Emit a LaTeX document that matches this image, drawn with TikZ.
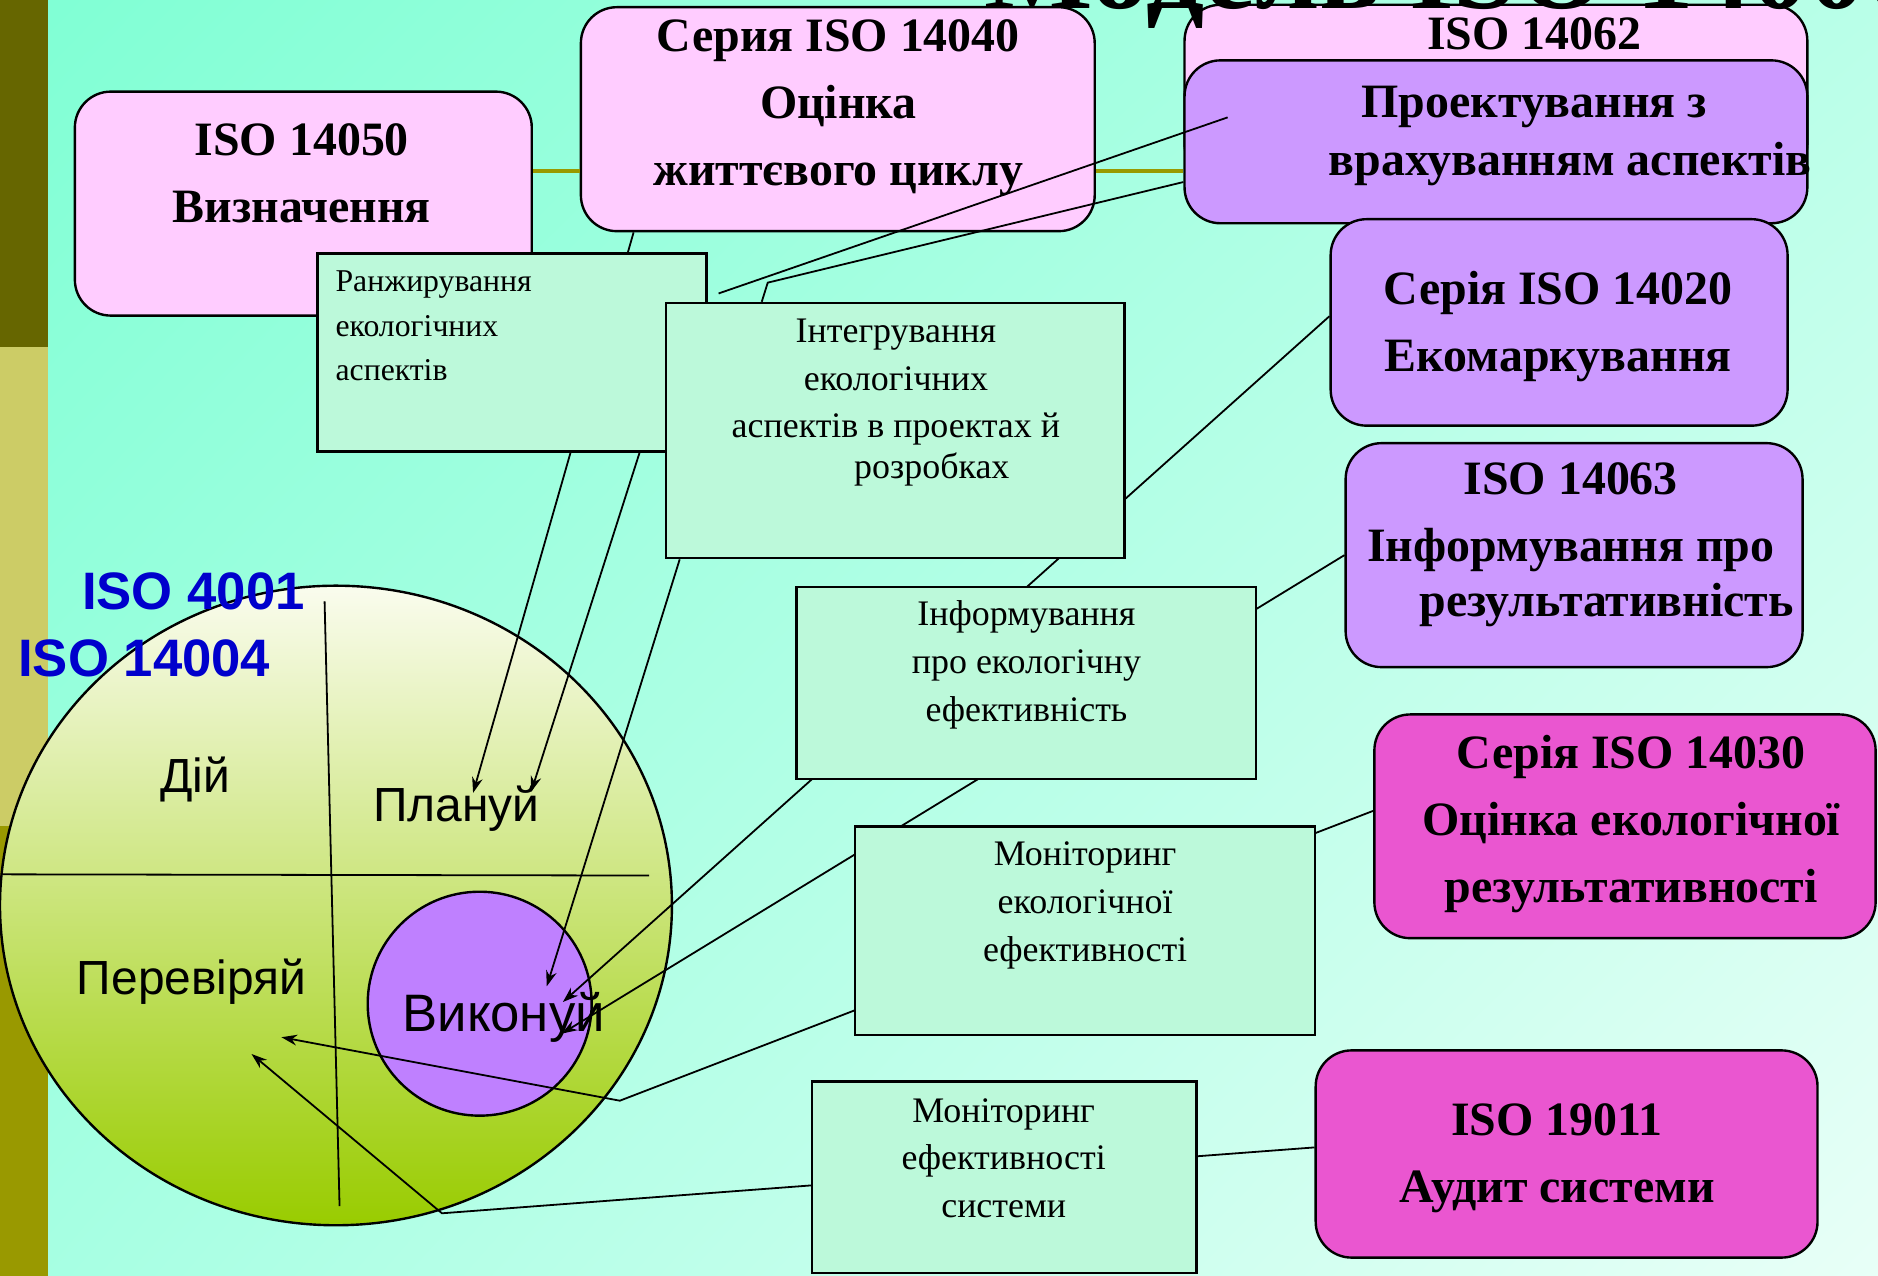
\documentclass[tikz,border=0pt]{standalone}
\usepackage{fontspec}
\setmainfont{Liberation Serif}
\newfontfamily\sansf{Liberation Sans}
\usetikzlibrary{arrows.meta,shapes.geometric,shadings}

\definecolor{bgTopLeft}{RGB}{127,255,212}
\definecolor{bgTopRight}{RGB}{185,255,232}
\definecolor{bgBotLeft}{RGB}{165,255,226}
\definecolor{bgBotRight}{RGB}{232,255,247}
\definecolor{barDark}{RGB}{102,102,0}
\definecolor{barLight}{RGB}{204,204,102}
\definecolor{barMid}{RGB}{153,153,0}
\definecolor{pinkFill}{RGB}{255,204,255}
\definecolor{violetFill}{RGB}{204,153,255}
\definecolor{magentaFill}{RGB}{234,86,208}
\definecolor{mintFill}{RGB}{188,249,218}
\definecolor{pdcaTop}{RGB}{250,252,238}
\definecolor{pdcaBot}{RGB}{153,204,0}
\definecolor{doFill}{RGB}{191,128,255}
\definecolor{isoBlue}{RGB}{0,0,204}
\definecolor{oliveLine}{RGB}{153,153,0}

\pgfdeclarelayer{front}
\pgfsetlayers{main,front}

\begin{document}
\begin{tikzpicture}[x=1pt,y=1pt,yscale=-1,
  pinkbox/.style={draw, line width=2pt, rounded corners=30pt, fill=pinkFill, inner sep=0pt},
  violetbox/.style={pinkbox, fill=violetFill},
  magbox/.style={pinkbox, fill=magentaFill},
  mintbox/.style={draw, line width=2pt, fill=mintFill, inner sep=0pt},
  headtext/.style={align=center, inner sep=0pt, font=\fontsize{40}{56}\selectfont\bfseries},
  minttext/.style={align=center, inner sep=0pt, font=\fontsize{30}{40}\selectfont},
  phase/.style={inner sep=0pt, font=\sansf\fontsize{40}{48}\selectfont},
  isolabel/.style={inner sep=0pt, text=isoBlue, font=\sansf\bfseries\fontsize{44}{50}\selectfont},
  wire/.style={line width=1.5pt},
  arrowwire/.style={wire, -{Stealth[length=13pt,width=9pt]}},
  oliveline/.style={line width=3pt, draw=oliveLine}]
\useasboundingbox (0,0) rectangle (1568,1065);

%Background
\shade[upper left=bgTopLeft, upper right=bgTopRight, lower left=bgBotLeft, lower right=bgBotRight] (0,0) rectangle (1568,1065);
\fill[barDark] (0,0) rectangle (40,290);
\fill[barLight] (0,290) rectangle (40,690);
\fill[barMid] (0,690) rectangle (40,1065);

%Shape: Rounded Rect [id:def]
\node[pinkbox, minimum width=381.5pt, minimum height=187pt] (def) at (253.25,170) {};
\node[headtext] (tdef) at (252,145) {ISO 14050\\Визначення};
%Shape: Rounded Rect [id:lca]
\node[pinkbox, minimum width=429pt, minimum height=187pt] (lca) at (699.5,99.5) {};
\node[headtext] (tlca) at (700,90) {Серия ISO 14040\\Оцінка\\життєвого циклу};
%Shape: Rounded Rect [id:iso14062]
\node[pinkbox, minimum width=520pt, minimum height=146pt] (iso14062) at (1249,77) {};
\node[headtext, anchor=base] (tiso14062) at (1281,41) {ISO 14062};
%Shape: Rounded Rect [id:proj]
\node[violetbox, minimum width=520pt, minimum height=136pt] (proj) at (1249,118.4) {};
\node[headtext, font=\fontsize{40}{48}\selectfont\bfseries] (tproj) at (1281,113.6) {Проектування з\\\hspace*{60pt}врахуванням аспектів};
%Shape: Rounded Rect [id:eco]
\node[violetbox, minimum width=381.5pt, minimum height=172.4pt] (eco) at (1301.75,269.2) {};
\node[headtext] (teco) at (1301,272.6) {Серія ISO 14020\\Екомаркування};
%Shape: Rounded Rect [id:inform]
\node[violetbox, minimum width=381.5pt, minimum height=187pt] (inform) at (1314.25,463.5) {};
\node[headtext] (tinform) at (1311.5,455) {ISO 14063\\Інформування про\\[-10pt]\hspace*{60pt}результативність};
%Shape: Rounded Rect [id:perf]
\node[magbox, minimum width=418.5pt, minimum height=186.8pt] (perf) at (1356.75,689.9) {};
\node[headtext] (tperf) at (1362,688) {Серія ISO 14030\\Оцінка екологічної\\результативності};
%Shape: Rounded Rect [id:audit]
\node[magbox, minimum width=419pt, minimum height=173pt] (audit) at (1308,963.5) {};
\node[headtext] (taudit) at (1300,967) {ISO 19011\\Аудит системи};

%Straight Lines [id:olive]
\draw[oliveline] (def.east |- 0,143) -- (lca.west |- 0,143);
\draw[oliveline] (lca.east |- 0,143) -- (proj.west |- 0,143);

% Text Node
\node[anchor=base west, inner sep=0pt, font=\fontsize{96}{100}\selectfont\bfseries] (title) at (822,7) {Модель ISO 14000};

%Shape: Ellipse [id:pdca]
\node[ellipse, draw, line width=2pt, inner sep=0pt, minimum width=561pt, minimum height=534pt, top color=pdcaTop, bottom color=pdcaBot] (pdca) at (280.5,756) {};
\draw[wire] (271,502) -- (283.5,1007);
\draw[wire] (2,730) -- (542,731);
%Shape: Circle [id:doarea]
\node[circle, draw, line width=2pt, fill=doFill, inner sep=0pt, minimum size=187pt] (doarea) at (400.5,838) {};
% Text Node
\node[phase, anchor=base] (act) at (163,661.5) {Дій};
\node[phase, anchor=base] (plan) at (381,686) {Плануй};
\node[phase, anchor=base] (check) at (160,830) {Перевіряй};
\node[phase, anchor=base, font=\sansf\fontsize{44}{50}\selectfont] (do) at (420.5,861.5) {Виконуй};
\node[isolabel, anchor=base] (iso4001) at (161.5,508.5) {ISO 4001};
\node[isolabel, anchor=base] (iso14004) at (120.5,564.6) {ISO 14004};

\begin{pgfonlayer}{front}
%Shape: Rectangle [id:rank]
\node[mintbox, minimum width=325pt, minimum height=165.3pt] (rank) at (427.5,294.25) {};
\node[anchor=west, align=left, inner sep=0pt, font=\fontsize{26.5}{37}\selectfont] (trank) at (280,272) {Ранжирування\\екологічних\\аспектів};
%Shape: Rectangle [id:integ]
\node[mintbox, minimum width=383pt, minimum height=213pt] (integ) at (747.5,359.5) {};
\node[minttext] (tinteg) at (748,336) {Інтегрування\\екологічних\\аспектів в проектах й\\[-6pt]\hspace*{60pt}розробках};
%Shape: Rectangle [id:report]
\node[mintbox, minimum width=383.5pt, minimum height=160.5pt] (report) at (856.75,570.25) {};
\node[minttext] (treport) at (857,555) {Інформування\\про екологічну\\ефективність};
%Shape: Rectangle [id:monit]
\node[mintbox, minimum width=384pt, minimum height=174pt] (monit) at (906,777) {};
\node[minttext] (tmonit) at (906,756) {Моніторинг\\екологічної\\ефективності};
%Shape: Rectangle [id:sysmon]
\node[mintbox, minimum width=321pt, minimum height=160pt] (sysmon) at (838.5,983) {};
\node[minttext] (tsysmon) at (838,967) {Моніторинг\\ефективності\\системи};
\end{pgfonlayer}

%Connectors
\coordinate (tipPlanA) at (395,662);
\coordinate (tipPlanB) at (443.5,661);
\coordinate (tipDoA) at (456.5,823.5);
\coordinate (tipDoB) at (470,836.6);
\coordinate (tipDoC) at (469,863);
\coordinate (tipChkA) at (235,866);
\coordinate (tipChkB) at (210,880);
\coordinate (kneeChkA) at (517.5,919);
\coordinate (kneeChkB) at (369,1013);
\coordinate (kneeInteg) at (641,236);
\coordinate (looseEnd) at (600,245);
\coordinate (projIn) at (1025,98);

\draw[arrowwire] (lca.south -| 529,0) -- (tipPlanA);
\draw[arrowwire] (rank.south -| 534,0) -- (tipPlanB);
\draw[arrowwire] (integ.south -| 567.5,0) -- (tipDoA);
\draw[arrowwire] (eco.west |- 0,264) -- (tipDoB);
\draw[arrowwire] (inform.west) -- (tipDoC);
\draw[arrowwire] (perf.west |- 0,677) -- (kneeChkA) -- (tipChkA);
\draw[arrowwire] (audit.west |- 0,958) -- (kneeChkB) -- (tipChkB);
\draw[wire] (integ.north -| 636,0) -- (kneeInteg) -- (proj.west |- 0,152);
\draw[wire] (looseEnd) -- (projIn);

\end{tikzpicture}
\end{document}
